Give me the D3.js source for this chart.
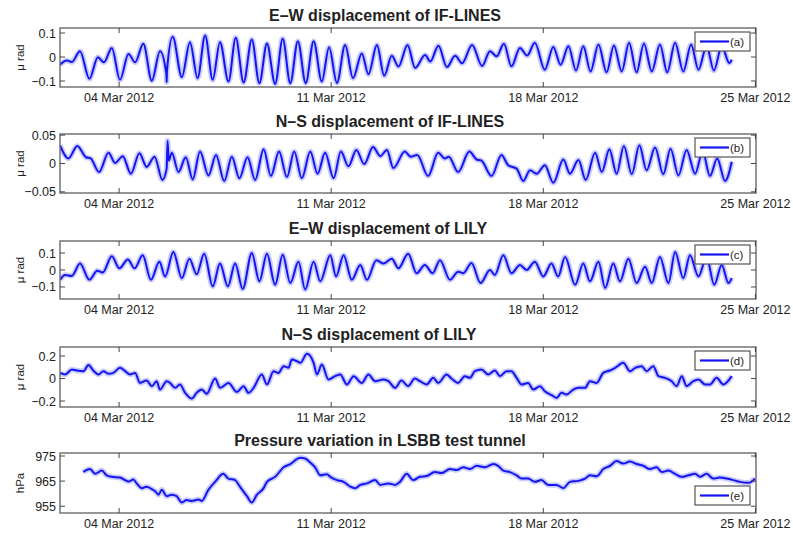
<!DOCTYPE html>
<html><head><meta charset="utf-8">
<script src="https://cdn.jsdelivr.net/npm/d3@7/dist/d3.min.js"></script>
<style>body{margin:0;background:#fff}svg{display:block}</style>
</head><body><svg id="c" width="793" height="533"></svg>
<script>
// ---- data: [day of March 2012 (decimal), value] ----
const ewIfLines = [[2.05,-0.032],[2.27,-0.014],[2.44,-0.021],[2.71,0.024],[3.02,-0.091],[3.30,-0.001],[3.50,-0.022],[3.76,0.038],[4.03,-0.095],[4.31,0.013],[4.53,-0.022],[4.80,0.055],[5.08,-0.099],[5.35,0.024],[5.56,-0.07],[5.57,-0.105],[5.58,-0.06],[5.77,0.084],[6.07,-0.084],[6.34,0.062],[6.59,-0.088],[6.84,0.090],[7.09,-0.095],[7.33,0.062],[7.61,-0.102],[7.85,0.080],[8.11,-0.106],[8.38,0.073],[8.63,-0.109],[8.88,0.056],[9.15,-0.112],[9.40,0.076],[9.65,-0.109],[9.90,0.066],[10.16,-0.109],[10.42,0.066],[10.69,-0.102],[10.93,0.041],[11.19,-0.108],[11.46,0.050],[11.72,-0.088],[12.01,0.015],[12.23,-0.072],[12.51,0.050],[12.75,-0.078],[13.00,0.005],[13.22,-0.040],[13.52,0.050],[13.77,-0.046],[14.10,0.008],[14.27,-0.019],[14.54,0.047],[14.82,-0.042],[15.09,0.005],[15.32,-0.026],[15.65,0.050],[15.98,-0.037],[16.24,0.024],[16.46,0.003],[16.70,0.055],[16.95,-0.039],[17.23,0.038],[17.47,0.006],[17.72,0.059],[18.05,-0.053],[18.33,0.042],[18.57,-0.032],[18.83,0.045],[19.08,-0.056],[19.32,0.045],[19.56,-0.060],[19.82,0.052],[20.09,-0.064],[20.33,0.048],[20.59,-0.060],[20.83,0.059],[21.08,-0.064],[21.32,0.056],[21.58,-0.060],[21.85,0.052],[22.09,-0.064],[22.35,0.059],[22.62,-0.060],[22.88,0.052],[23.12,-0.053],[23.39,0.045],[23.63,-0.056],[23.89,0.045],[24.14,-0.025],[24.22,-0.011]];

const nsIfLines = [[2.05,0.032],[2.33,0.009],[2.62,0.031],[2.91,0.011],[3.06,0.009],[3.34,-0.015],[3.65,0.019],[3.87,0.001],[4.12,0.013],[4.39,-0.018],[4.67,0.018],[4.91,-0.006],[5.17,0.012],[5.43,-0.029],[5.57,-0.009],[5.60,0.040],[5.64,0.005],[5.74,0.019],[5.96,-0.015],[6.20,0.011],[6.43,-0.028],[6.67,0.021],[6.95,-0.021],[7.20,0.015],[7.47,-0.031],[7.72,0.012],[7.97,-0.026],[8.24,0.011],[8.49,-0.029],[8.77,0.025],[9.01,-0.022],[9.28,0.021],[9.54,-0.024],[9.78,0.021],[10.03,-0.026],[10.31,0.021],[10.55,-0.018],[10.80,0.019],[11.08,-0.026],[11.32,0.021],[11.57,-0.005],[11.83,0.024],[12.09,-0.001],[12.38,0.029],[12.62,0.013],[12.84,0.024],[13.05,-0.008],[13.43,0.021],[13.62,0.012],[13.84,0.015],[14.20,-0.022],[14.53,0.019],[14.75,0.009],[14.88,0.012],[15.19,-0.015],[15.56,0.021],[15.80,0.007],[15.96,0.005],[16.29,-0.022],[16.62,0.015],[16.84,-0.003],[17.12,-0.009],[17.34,-0.031],[17.56,-0.012],[17.78,-0.018],[18.05,-0.003],[18.33,-0.034],[18.66,0.007],[18.88,-0.018],[19.16,0.006],[19.40,-0.029],[19.71,0.019],[19.93,-0.015],[20.18,0.025],[20.42,-0.018],[20.66,0.031],[20.92,-0.019],[21.17,0.032],[21.41,-0.012],[21.69,0.028],[21.96,-0.019],[22.20,0.026],[22.46,-0.021],[22.73,0.024],[23.01,-0.018],[23.26,0.021],[23.50,-0.022],[23.74,0.009],[24.00,-0.031],[24.22,0.003]];

const ewLily = [[2.05,-0.058],[2.22,-0.029],[2.44,-0.035],[2.71,0.038],[3.02,-0.058],[3.28,-0.004],[3.46,-0.015],[3.76,0.081],[4.01,0.010],[4.29,0.062],[4.51,0.010],[4.78,0.087],[5.05,-0.058],[5.33,0.048],[5.52,-0.038],[5.79,0.106],[6.07,-0.048],[6.32,0.067],[6.56,-0.025],[6.81,0.096],[7.09,-0.096],[7.33,0.038],[7.59,-0.096],[7.83,0.038],[8.08,-0.112],[8.38,0.100],[8.63,-0.067],[8.88,0.096],[9.15,-0.087],[9.40,0.090],[9.65,-0.077],[9.92,0.048],[10.14,-0.115],[10.42,0.048],[10.64,-0.067],[10.97,0.087],[11.16,-0.038],[11.41,0.087],[11.68,-0.058],[11.96,0.029],[12.18,-0.058],[12.49,0.058],[12.73,0.038],[13.00,0.067],[13.22,0.010],[13.54,0.096],[13.82,-0.019],[14.09,0.029],[14.35,-0.019],[14.59,0.058],[14.92,-0.058],[15.19,-0.010],[15.36,-0.019],[15.63,0.042],[15.93,-0.077],[16.24,0.000],[16.40,-0.029],[16.68,0.087],[16.95,-0.019],[17.23,0.029],[17.45,0.000],[17.72,0.048],[18.00,-0.038],[18.27,0.038],[18.49,-0.038],[18.72,0.077],[19.05,-0.087],[19.32,0.038],[19.54,-0.067],[19.82,0.048],[20.04,-0.106],[20.31,0.038],[20.53,-0.067],[20.81,0.067],[21.08,-0.077],[21.36,0.019],[21.58,-0.077],[21.85,0.077],[22.13,-0.077],[22.35,0.106],[22.62,-0.048],[22.84,0.087],[23.12,-0.038],[23.39,0.077],[23.64,-0.087],[23.89,0.029],[24.11,-0.077],[24.22,-0.048]];

const nsLily = [[2.05,0.050],[2.22,0.036],[2.44,0.080],[2.60,0.071],[2.82,0.065],[2.99,0.119],[3.15,0.071],[3.32,0.036],[3.48,0.065],[3.65,0.042],[3.81,0.050],[4.03,0.095],[4.20,0.065],[4.36,0.036],[4.53,0.050],[4.69,-0.039],[4.91,-0.018],[5.08,-0.068],[5.24,-0.024],[5.35,-0.098],[5.57,-0.024],[5.68,-0.039],[5.85,-0.083],[6.01,-0.053],[6.18,-0.127],[6.40,-0.178],[6.56,-0.127],[6.73,-0.098],[6.89,-0.136],[7.17,0.000],[7.33,-0.083],[7.61,-0.039],[7.89,-0.119],[8.11,-0.068],[8.27,-0.127],[8.44,-0.083],[8.71,0.036],[8.88,-0.053],[9.10,0.065],[9.26,0.050],[9.43,0.110],[9.59,0.095],[9.70,0.169],[9.87,0.154],[9.98,0.139],[10.20,0.219],[10.42,0.139],[10.53,0.036],[10.69,0.124],[10.91,-0.009],[11.13,0.021],[11.30,0.036],[11.52,-0.053],[11.74,0.021],[12.01,-0.039],[12.23,0.036],[12.45,-0.024],[12.73,-0.009],[12.89,-0.024],[13.11,-0.083],[13.32,-0.018],[13.54,-0.068],[13.76,0.000],[13.93,-0.024],[14.15,-0.053],[14.37,0.006],[14.53,-0.039],[14.81,0.036],[14.97,0.000],[15.19,-0.039],[15.41,0.021],[15.58,0.006],[15.74,0.065],[15.96,0.080],[16.18,0.036],[16.40,0.071],[16.57,0.021],[16.79,0.065],[16.95,0.065],[17.12,0.006],[17.28,-0.053],[17.50,-0.039],[17.67,-0.098],[17.89,-0.068],[18.05,-0.113],[18.28,-0.148],[18.44,-0.172],[18.60,-0.127],[18.77,-0.142],[18.99,-0.098],[19.16,-0.083],[19.38,-0.083],[19.54,-0.024],[19.76,-0.039],[19.98,0.050],[20.20,0.071],[20.37,0.095],[20.64,0.139],[20.86,0.065],[21.03,0.095],[21.25,0.110],[21.41,0.065],[21.63,0.110],[21.80,0.021],[22.02,0.006],[22.24,-0.024],[22.40,-0.068],[22.57,0.021],[22.73,-0.068],[22.95,-0.024],[23.12,-0.009],[23.34,-0.053],[23.50,-0.053],[23.72,0.006],[23.94,-0.053],[24.22,0.021]];

const pressure = [[2.82,968.6],[3.04,969.8],[3.21,967.9],[3.43,969.2],[3.59,967.3],[3.76,966.7],[4.03,966.4],[4.20,965.4],[4.31,964.8],[4.47,965.6],[4.58,964.1],[4.75,962.2],[4.91,962.8],[5.08,961.8],[5.19,961.0],[5.30,959.6],[5.41,961.6],[5.57,959.0],[5.74,959.6],[5.90,959.0],[6.07,956.5],[6.23,957.5],[6.40,957.1],[6.62,957.7],[6.73,957.1],[6.95,961.6],[7.17,964.7],[7.44,967.9],[7.61,966.0],[7.83,965.4],[7.99,962.8],[8.22,959.0],[8.38,956.5],[8.55,959.6],[8.77,962.2],[8.88,964.7],[9.15,966.7],[9.43,970.5],[9.65,971.8],[9.98,974.3],[10.14,974.0],[10.31,972.4],[10.47,970.5],[10.64,967.3],[10.86,967.7],[10.97,966.7],[11.19,965.4],[11.41,964.7],[11.63,962.8],[11.79,962.2],[11.96,963.5],[12.18,964.1],[12.45,965.4],[12.62,963.5],[12.89,964.1],[13.11,963.5],[13.27,964.7],[13.49,967.9],[13.71,965.4],[13.93,966.7],[14.15,967.0],[14.42,968.6],[14.64,968.2],[14.92,969.8],[15.14,969.4],[15.36,970.5],[15.58,969.8],[15.80,971.1],[16.07,970.5],[16.35,971.8],[16.51,971.1],[16.68,969.2],[16.90,968.6],[17.12,967.3],[17.28,966.0],[17.50,966.0],[17.72,964.7],[17.94,965.4],[18.16,963.5],[18.44,963.5],[18.66,962.2],[18.88,964.7],[19.16,965.1],[19.38,966.0],[19.54,967.3],[19.76,966.9],[19.98,969.8],[20.20,971.1],[20.42,973.0],[20.64,972.0],[20.86,972.8],[21.08,971.8],[21.30,971.1],[21.52,969.8],[21.74,970.5],[21.91,968.6],[22.13,969.2],[22.35,967.9],[22.57,966.7],[22.79,967.3],[23.01,967.9],[23.17,966.7],[23.39,967.9],[23.61,966.0],[23.83,966.4],[24.05,966.0],[24.27,965.4],[24.49,964.7],[24.77,964.3],[24.99,966.0]];

const titles = ["E\u2013W displacement of IF-LINES","N\u2013S displacement of IF-LINES","E\u2013W displacement of LILY","N\u2013S displacement of LILY","Pressure variation in LSBB test tunnel"];
const yLabels = ["\u03bc rad","\u03bc rad","\u03bc rad","\u03bc rad","hPa"];
const legendLabels = ["(a)","(b)","(c)","(d)","(e)"];
const yTicks = [[-0.1,0,0.1],[-0.05,0,0.05],[-0.1,0,0.1],[-0.2,0,0.2],[955,965,975]];
const yTickLabels = [["\u22120.1","0","0.1"],["\u22120.05","0","0.05"],["\u22120.1","0","0.1"],["\u22120.2","0","0.2"],["955","965","975"]];
const yDomains = [[-0.125,0.121],[-0.052,0.052],[-0.171,0.171],[-0.253,0.28],[952.3,976.2]];
const xTickDays = [4,11,18,25];
const xDomainDays = [2.05,25.02];

// ---- layout ----
const series = [ewIfLines,nsIfLines,ewLily,nsLily,pressure];
const panelTops = [28,134,241,347,453];
const panelH = [59,59,58,60,60];
const titleCx = [385,390,388,379,380];
const left = 60, right = 756;
const toDate = d => new Date(Date.UTC(2012,2,1) + (d-1)*864e5);

const svg = d3.select("#c");
const x = d3.scaleUtc().domain(xDomainDays.map(toDate)).range([left,right]);
const fmt = d3.utcFormat("%d %b %Y");
const font = "Liberation Sans, Arial, Helvetica, sans-serif";
const textCol = "#222";

series.forEach((data,i) => {
  const top = panelTops[i], bot = top + panelH[i];
  const y = d3.scaleLinear().domain(yDomains[i]).range([bot, top]);
  const g = svg.append("g");

  // title
  g.append("text").attr("x",titleCx[i]).attr("y",top-7)
    .attr("text-anchor","middle").attr("font-family",font).attr("font-weight","bold")
    .attr("font-size",16).attr("fill",textCol).text(titles[i]);

  // data line
  const clipId = "clip"+i;
  svg.append("clipPath").attr("id",clipId).append("rect")
    .attr("x",left).attr("y",top).attr("width",right-left).attr("height",bot-top);
  const line = d3.line().x(d=>x(toDate(d[0]))).y(d=>y(d[1])).curve(d3.curveMonotoneX);
  const lg = g.append("g").attr("clip-path",`url(#${clipId})`);
  lg.append("path").datum(data).attr("d",line).attr("fill","none")
    .attr("stroke","#9aa0ff").attr("stroke-opacity",0.55).attr("stroke-width",5.5).attr("stroke-linejoin","round");
  lg.append("path").datum(data).attr("d",line).attr("fill","none")
    .attr("stroke","#1414f0").attr("stroke-width",2).attr("stroke-linejoin","round");

  // frame
  g.append("rect").attr("x",left).attr("y",top).attr("width",right-left).attr("height",bot-top)
    .attr("fill","none").attr("stroke","#6a6a6a").attr("stroke-width",1.4);

  // x ticks (inside, bottom and top) and labels
  const xt = xTickDays.map(toDate);
  xt.forEach(t => {
    const px = x(t);
    g.append("line").attr("x1",px).attr("x2",px).attr("y1",bot).attr("y2",bot-5).attr("stroke","#444").attr("stroke-width",1);
    g.append("line").attr("x1",px).attr("x2",px).attr("y1",top).attr("y2",top+5).attr("stroke","#444").attr("stroke-width",1);
    g.append("text").attr("x",px).attr("y",bot+15).attr("text-anchor","middle")
      .attr("font-family",font).attr("font-size",12.5).attr("fill",textCol).text(fmt(t));
  });

  // y ticks (inside, left and right) and labels
  yTicks[i].forEach((v,k) => {
    const py = y(v);
    g.append("line").attr("x1",left).attr("x2",left+5).attr("y1",py).attr("y2",py).attr("stroke","#444");
    g.append("line").attr("x1",right).attr("x2",right-5).attr("y1",py).attr("y2",py).attr("stroke","#444");
    g.append("text").attr("x",left-4).attr("y",py+4.5).attr("text-anchor","end")
      .attr("font-family",font).attr("font-size",12.5).attr("fill",textCol).text(yTickLabels[i][k]);
  });

  // y label
  g.append("text").attr("transform",`translate(${24},${(top+bot)/2}) rotate(-90)`)
    .attr("text-anchor","middle").attr("font-family",font).attr("font-size",11.5)
    .attr("fill",textCol).text(yLabels[i]);

  // legend
  const lw = 55, lh = 19;
  const lx = 695, ly = (i===4) ? bot-27 : top+4;
  g.append("rect").attr("x",lx).attr("y",ly).attr("width",lw).attr("height",lh)
    .attr("fill","#fff").attr("stroke","#555").attr("stroke-width",1.2);
  g.append("line").attr("x1",lx+5).attr("x2",lx+34).attr("y1",ly+lh/2).attr("y2",ly+lh/2)
    .attr("stroke","#1414f0").attr("stroke-width",2.2);
  g.append("text").attr("x",lx+35).attr("y",ly+lh/2+4).attr("font-family",font)
    .attr("font-size",11.5).attr("fill",textCol).text(legendLabels[i]);
});
</script></body></html>
